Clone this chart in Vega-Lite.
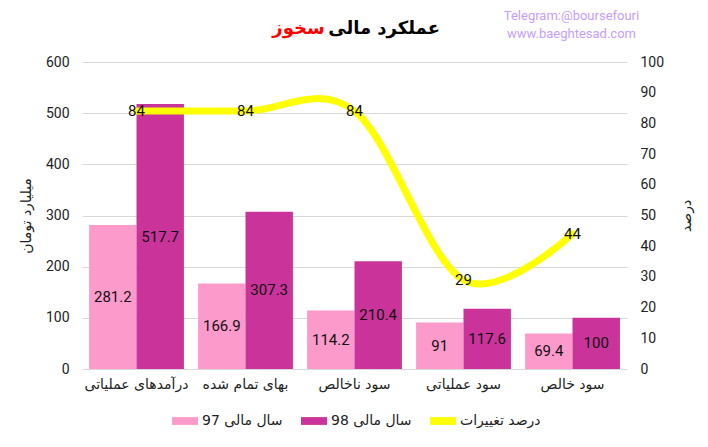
{
  "$schema": "https://vega.github.io/schema/vega-lite/v6.json",
  "autosize": "none",
  "width": 545,
  "height": 307,
  "padding": {"left": 82, "top": 62, "right": 81, "bottom": 78},
  "background": "white",
  "config": {
    "view": {"stroke": null},
    "font": "Roboto",
    "axis": {
      "labelFont": "Roboto",
      "labelFontSize": 14,
      "labelColor": "#222222",
      "titleFont": "DejaVu Sans",
      "titleFontSize": 14,
      "titleFontWeight": "normal",
      "titleColor": "#222222",
      "grid": false,
      "domain": false,
      "ticks": false
    },
    "legend": {"labelFont": "Roboto", "labelFontSize": 14, "labelColor": "#222222"}
  },
  "title": {
    "text": "عملکرد مالی",
    "anchor": "end",
    "frame": "group",
    "dx": -187,
    "offset": -29,
    "font": "DejaVu Sans",
    "fontSize": 18,
    "fontWeight": "bold",
    "color": "#000000"
  },
  "datasets": {
    "bars": [
      {"cat": "درآمدهای عملیاتی", "series": "سال مالی 97", "value": 281.2},
      {"cat": "درآمدهای عملیاتی", "series": "سال مالی 98", "value": 517.7},
      {"cat": "بهای تمام شده", "series": "سال مالی 97", "value": 166.9},
      {"cat": "بهای تمام شده", "series": "سال مالی 98", "value": 307.3},
      {"cat": "سود ناخالص", "series": "سال مالی 97", "value": 114.2},
      {"cat": "سود ناخالص", "series": "سال مالی 98", "value": 210.4},
      {"cat": "سود عملیاتی", "series": "سال مالی 97", "value": 91},
      {"cat": "سود عملیاتی", "series": "سال مالی 98", "value": 117.6},
      {"cat": "سود خالص", "series": "سال مالی 97", "value": 69.4},
      {"cat": "سود خالص", "series": "سال مالی 98", "value": 100}
    ],
    "pct": [
      {"cat": "درآمدهای عملیاتی", "pct": 84},
      {"cat": "بهای تمام شده", "pct": 84},
      {"cat": "سود ناخالص", "pct": 84},
      {"cat": "سود عملیاتی", "pct": 29},
      {"cat": "سود خالص", "pct": 44}
    ]
  },
  "resolve": {
    "scale": {"y": "independent"},
    "axis": {"x": "independent", "y": "independent"}
  },
  "layer": [
    {
      "data": {"name": "bars"},
      "mark": {"type": "bar"},
      "encoding": {
        "x": {
          "field": "cat", "type": "nominal",
          "sort": ["درآمدهای عملیاتی", "بهای تمام شده", "سود ناخالص", "سود عملیاتی", "سود خالص"],
          "scale": {"paddingInner": 0.13, "paddingOuter": 0.065},
          "axis": {"orient": "bottom", "title": null, "labelAngle": 0, "labelPadding": 8, "labelFont": "DejaVu Sans", "labelFontSize": 14}
        },
        "xOffset": {"field": "series", "type": "nominal", "sort": ["سال مالی 97", "سال مالی 98"], "scale": {"paddingInner": 0}},
        "y": {
          "field": "value", "type": "quantitative",
          "scale": {"domain": [0, 600]},
          "axis": {
            "orient": "left",
            "values": [0, 100, 200, 300, 400, 500, 600],
            "grid": true, "gridColor": "#D9D9D9",
            "labelPadding": 13,
            "title": "میلیارد تومان",
            "titlePadding": 12
          }
        },
        "color": {
          "field": "series", "type": "nominal",
          "scale": {
            "domain": ["سال مالی 97", "سال مالی 98", "درصد تغییرات"],
            "range": ["#FC9BCB", "#C9339A", "#FFFF00"]
          },
          "legend": {
            "orient": "none",
            "legendX": 90,
            "legendY": 346,
            "direction": "horizontal",
            "title": null,
            "symbolType": "M-1,-0.3H1V0.3H-1Z",
            "symbolSize": 676,
            "symbolStrokeWidth": 0,
            "labelFont": "DejaVu Sans",
            "labelOffset": 4,
            "columnPadding": 18
          }
        }
      }
    },
    {
      "data": {"name": "bars"},
      "mark": {"type": "text", "fontSize": 15, "color": "#111111", "baseline": "middle"},
      "encoding": {
        "x": {
          "field": "cat", "type": "nominal",
          "sort": ["درآمدهای عملیاتی", "بهای تمام شده", "سود ناخالص", "سود عملیاتی", "سود خالص"],
          "axis": {
            "orient": "top", "labels": false, "ticks": false, "domain": false,
            "title": "سخوز",
            "titleFont": "DejaVu Sans", "titleFontSize": 18, "titleFontWeight": "bold", "titleColor": "#FF0000",
            "titleAngle": 0, "titleAlign": "center", "titleBaseline": "middle",
            "titleX": 216, "titleY": -34
          }
        },
        "xOffset": {"field": "series", "type": "nominal", "sort": ["سال مالی 97", "سال مالی 98"]},
        "y": {"field": "value", "type": "quantitative", "scale": {"domain": [0, 1200]}, "axis": null},
        "text": {"field": "value", "type": "quantitative"}
      }
    },
    {
      "data": {"name": "pct"},
      "mark": {"type": "line", "interpolate": "cardinal", "tension": 0, "color": "#FFFF00", "strokeWidth": 7, "strokeCap": "round"},
      "encoding": {
        "x": {
          "field": "cat", "type": "nominal",
          "sort": ["درآمدهای عملیاتی", "بهای تمام شده", "سود ناخالص", "سود عملیاتی", "سود خالص"],
          "axis": {
            "orient": "top", "labels": false, "ticks": false, "domain": false,
            "title": ["Telegram:@boursefouri", "www.baeghtesad.com"],
            "titleFont": "Roboto", "titleFontSize": 13, "titleColor": "#C79DFB",
            "titleAngle": 0, "titleAlign": "center", "titleBaseline": "top",
            "titleLineHeight": 18,
            "titleX": 489, "titleY": -53
          }
        },
        "y": {
          "field": "pct", "type": "quantitative",
          "scale": {"domain": [0, 100]},
          "axis": {
            "orient": "right",
            "values": [0, 10, 20, 30, 40, 50, 60, 70, 80, 90, 100],
            "labelPadding": 13,
            "title": "درصد",
            "titleAngle": 270,
            "titlePadding": 30
          }
        }
      }
    },
    {
      "data": {"name": "pct"},
      "mark": {"type": "text", "fontSize": 15, "color": "#111111", "baseline": "middle"},
      "encoding": {
        "x": {"field": "cat", "type": "nominal", "sort": ["درآمدهای عملیاتی", "بهای تمام شده", "سود ناخالص", "سود عملیاتی", "سود خالص"], "axis": null},
        "y": {"field": "pct", "type": "quantitative", "scale": {"domain": [0, 100]}, "axis": null},
        "text": {"field": "pct", "type": "quantitative"}
      }
    }
  ]
}
